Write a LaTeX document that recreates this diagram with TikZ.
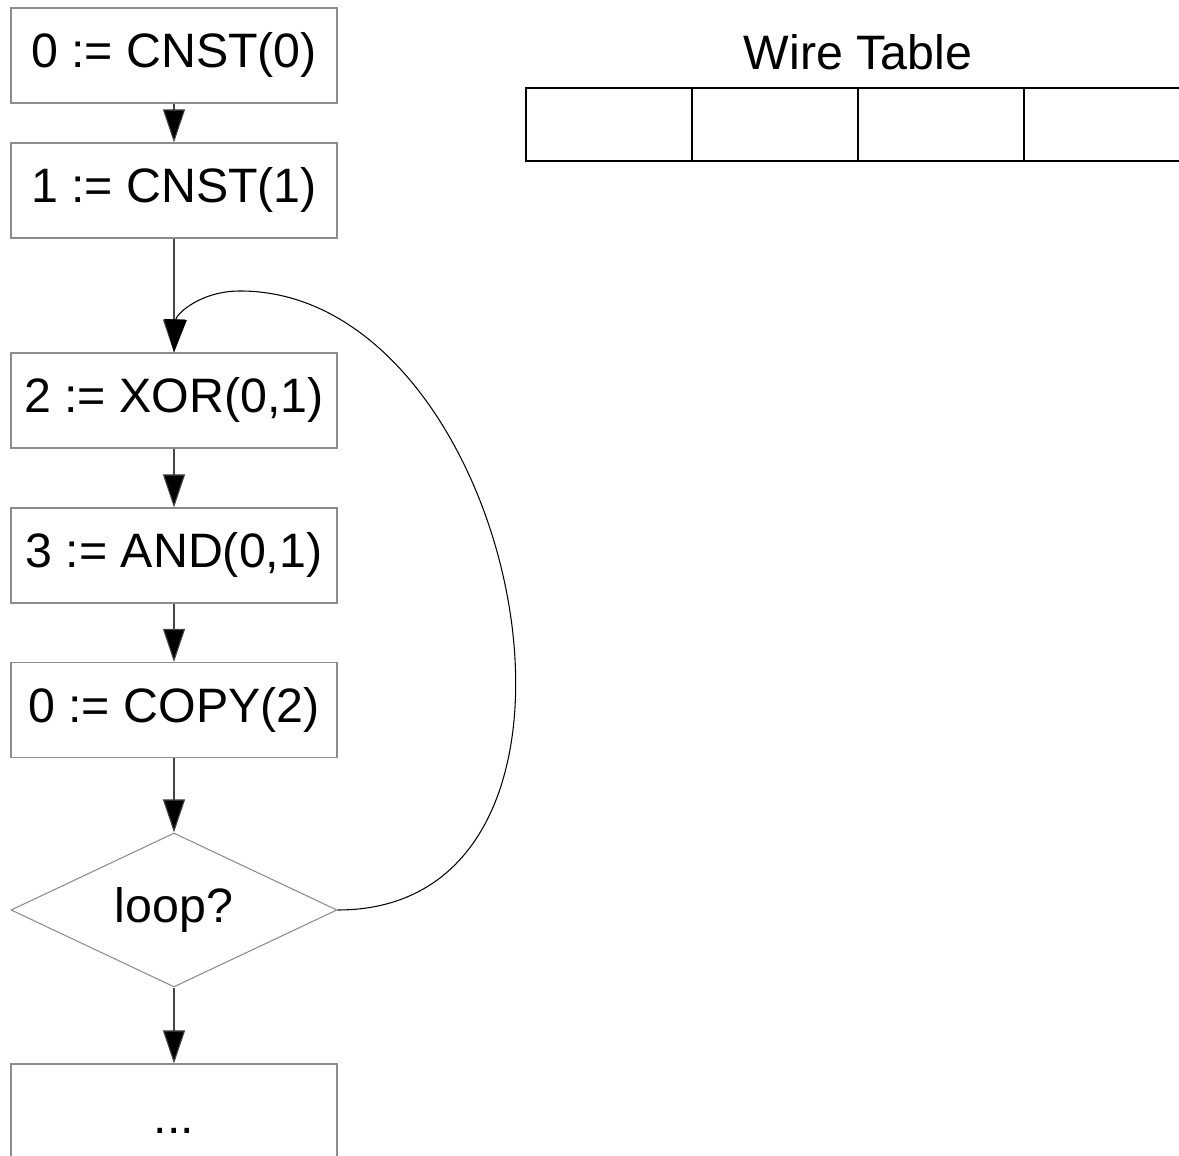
\documentclass[tikz,border=0pt]{standalone}
\usepackage{fontspec}
\setmainfont{Liberation Sans}
\usetikzlibrary{shapes.geometric,arrows.meta}
\definecolor{boxgray}{RGB}{140,140,140}
\definecolor{linegray}{RGB}{70,70,70}
\begin{document}
\begin{tikzpicture}[
    stepbox/.style={draw=boxgray, line width=0.6pt, minimum width=6.52cm, minimum height=1.9cm, inner sep=0pt, font=\fontsize{27.5}{33}\selectfont},
    decide/.style={diamond, aspect=2.1, draw=boxgray, line width=0.6pt, minimum width=6.52cm, minimum height=3.08cm, inner sep=0pt, font=\fontsize{27.5}{33}\selectfont},
    cell/.style={draw=black, line width=0.6pt, minimum width=3.32cm, minimum height=1.46cm, inner sep=0pt},
    flow/.style={draw=linegray, line width=0.6pt, -{Triangle[width=0.44cm,length=0.66cm,fill=black]}},
    back/.style={draw=black, line width=0.6pt, -{Triangle[width=0.44cm,length=0.66cm,fill=black]}}
  ]
  \useasboundingbox (0,0) rectangle (23.58,23.12);

  % the program
  \node[stepbox] (c0) at (3.48,22.01) {0 := CNST(0)};
  \node[stepbox] (c1) at (3.48,19.31) {1 := CNST(1)};
  \node[stepbox] (xor) at (3.48,15.11) {2 := XOR(0,1)};
  \node[stepbox] (and) at (3.48,12.01) {3 := AND(0,1)};
  \node[stepbox] (copy) at (3.48,8.92) {0 := COPY(2)};
  \node[decide] (loop) at (3.48,4.92) {loop?};
  \node[stepbox, minimum height=2.68cm] (rest) at (3.48,0.5) {...};

  \draw[flow] (c0) -- (c1);
  \draw[flow] (c1) -- (xor);
  \draw[flow] (xor) -- (and);
  \draw[flow] (and) -- (copy);
  \draw[flow] (copy) -- (loop);
  \draw[flow] (loop) -- (rest);

  % jump back
  \coordinate (looptop) at (4.8,17.3);
  \draw[back] (loop.east) .. controls +(6.1,0) and +(5.6,0) .. (looptop)
    .. controls +(-0.8,0) and +(0.04,0.76) .. (xor.north);

  % wire table
  \node[font=\fontsize{27.5}{33}\selectfont] (title) at (17.16,22.08) {Wire Table};
  \foreach \i in {0,...,3} {
    \node[cell] (cell\i) at (12.18+3.32*\i,20.63) {};
  }
\end{tikzpicture}
\end{document}
